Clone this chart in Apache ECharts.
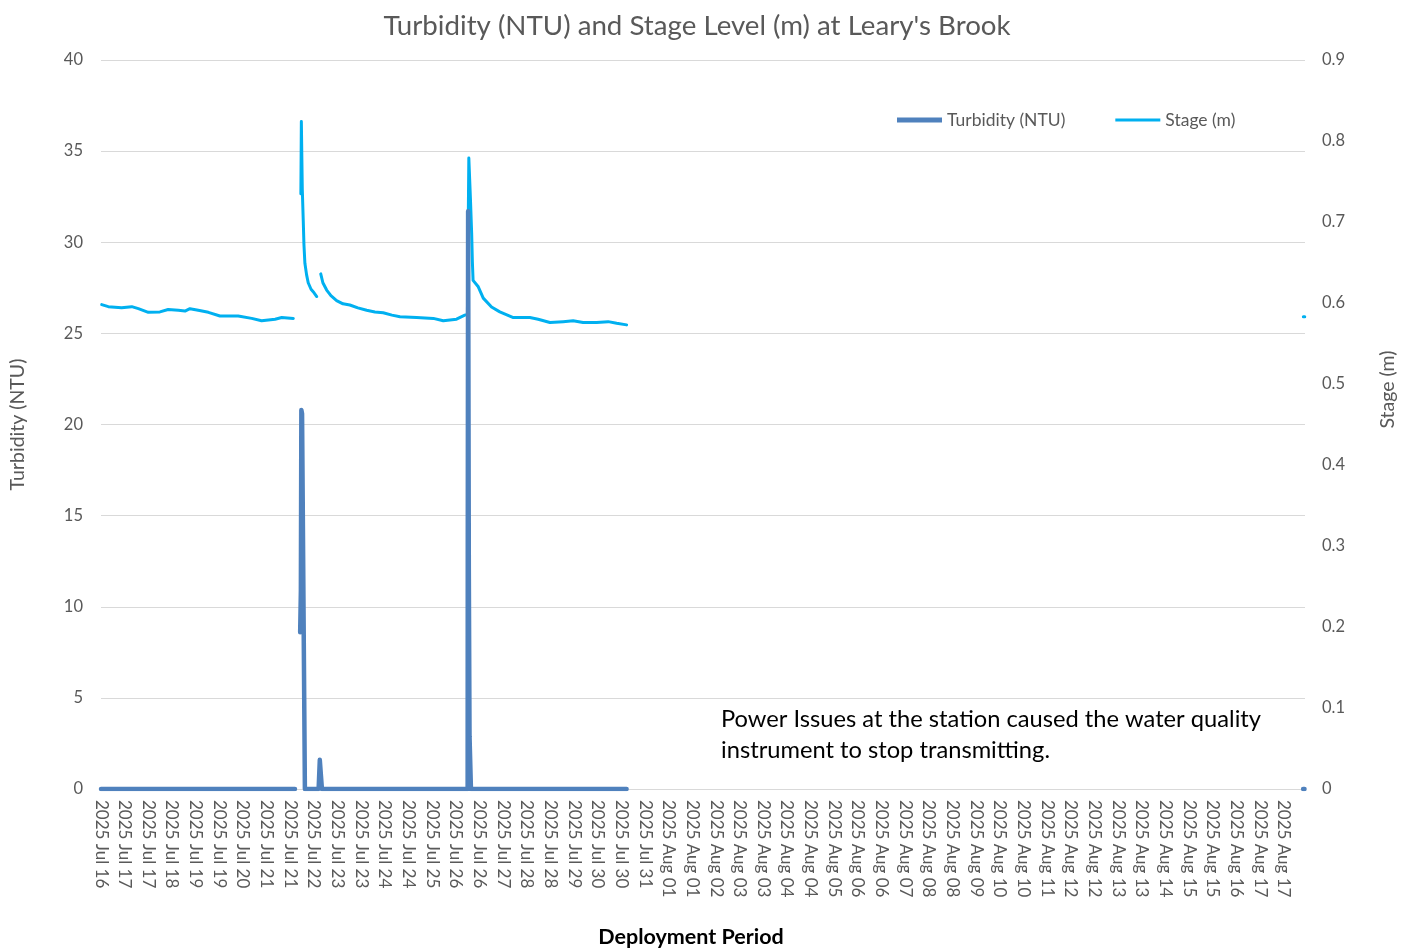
<!DOCTYPE html>
<html>
<head>
<meta charset="utf-8">
<title>Turbidity and Stage at Leary's Brook</title>
<script src="https://cdn.jsdelivr.net/npm/echarts@6/dist/echarts.min.js"></script>
<style>
  html, body { margin: 0; padding: 0; background: #fff; }
  #chart { width: 1416px; height: 951px; }
</style>
</head>
<body>
<div id="chart"></div>
<script>
// tick labels along the deployment axis (one per tick position)
const tickLabels = [
  "2025 Jul 16", "2025 Jul 17", "2025 Jul 17", "2025 Jul 18", "2025 Jul 19", "2025 Jul 19",
  "2025 Jul 20", "2025 Jul 21", "2025 Jul 21", "2025 Jul 22", "2025 Jul 23", "2025 Jul 23",
  "2025 Jul 24", "2025 Jul 24", "2025 Jul 25", "2025 Jul 26", "2025 Jul 26", "2025 Jul 27",
  "2025 Jul 28", "2025 Jul 28", "2025 Jul 29", "2025 Jul 30", "2025 Jul 30", "2025 Jul 31",
  "2025 Aug 01", "2025 Aug 01", "2025 Aug 02", "2025 Aug 03", "2025 Aug 03", "2025 Aug 04",
  "2025 Aug 04", "2025 Aug 05", "2025 Aug 06", "2025 Aug 06", "2025 Aug 07", "2025 Aug 08",
  "2025 Aug 08", "2025 Aug 09", "2025 Aug 10", "2025 Aug 10", "2025 Aug 11", "2025 Aug 12",
  "2025 Aug 12", "2025 Aug 13", "2025 Aug 13", "2025 Aug 14", "2025 Aug 15", "2025 Aug 15",
  "2025 Aug 16", "2025 Aug 17", "2025 Aug 17"
];

// positions are in tick units along the x axis; null value = no data (gap)
const turbidityPos = [0, 8.20, 8.21, 8.42, 8.45, 8.47, 8.50, 8.62, 9.20, 9.25, 9.28, 9.30, 9.34, 15.50,
  15.505, 15.52, 15.55, 15.58, 15.61, 15.64, 22.22, 22.3, 50.82, 50.88];
const turbidityNTU = [0, 0, null, 8.6, 10.9, 20.8, 20.6, 0, 0, 1.6, 1.5, 0.7, 0, 0,
  13.5, 31.7, 12.0, 2.9, 2.8, 0, 0, null, 0, 0];

const stagePos = [0.03, 0.31, 0.87, 1.30, 1.58, 2.00, 2.49, 2.84, 3.27, 3.55, 3.76, 4.11, 4.54, 5.03,
  5.80, 6.37, 6.79, 7.36, 7.64, 8.13, 8.2,
  8.45, 8.47, 8.51, 8.55, 8.58, 8.62, 8.69, 8.76, 8.88, 8.97, 9.12, 9.2,
  9.29, 9.38, 9.54, 9.72, 9.96, 10.23, 10.52, 10.86, 11.23, 11.58, 11.93, 12.30, 12.64, 13.34,
  14.05, 14.47, 15.03, 15.38, 15.49, 15.55, 15.62, 15.67, 15.70, 15.73, 15.95, 16.16, 16.51,
  16.86, 17.43, 18.13, 18.48, 18.98, 19.54, 19.96, 20.38, 20.95, 21.44, 21.80, 22.22, 22.3,
  50.83, 50.89];
const stageM = [0.598, 0.5955, 0.594, 0.5955, 0.593, 0.5885, 0.589, 0.592, 0.591, 0.590, 0.593, 0.591,
  0.5885, 0.584, 0.584, 0.581, 0.578, 0.580, 0.582, 0.581, null,
  0.735, 0.824, 0.740, 0.702, 0.672, 0.649, 0.635, 0.625, 0.617, 0.614, 0.608, null,
  0.636, 0.625, 0.616, 0.609, 0.603, 0.599, 0.5975, 0.594, 0.591, 0.589, 0.588, 0.585, 0.583,
  0.582, 0.581, 0.578, 0.580, 0.585, 0.586, 0.779, 0.727, 0.686, 0.651, 0.628, 0.620, 0.606,
  0.595, 0.589, 0.582, 0.582, 0.580, 0.576, 0.577, 0.578, 0.576, 0.576, 0.577, 0.575, 0.573, null,
  0.583, 0.583];

const turbidityData = turbidityPos.map((p, i) => [p, turbidityNTU[i] == null ? '-' : turbidityNTU[i]]);
const stageData = stagePos.map((p, i) => [p, stageM[i] == null ? '-' : stageM[i]]);

const FONT = "Lato";
const GREY = "#595959";

const chart = echarts.init(document.getElementById("chart"));
chart.setOption({
  animation: false,
  backgroundColor: "#fff",
  textStyle: { fontFamily: FONT },
  title: {
    text: "Turbidity (NTU) and Stage Level (m) at Leary's Brook",
    left: 692,
    top: 7,
    textAlign: "center",
    textStyle: { fontFamily: FONT, fontSize: 27.7, fontWeight: "normal", color: GREY }
  },
  legend: {
    data: [
      { name: "Turbidity (NTU)", icon: "path://M0,0h45v5h-45z" },
      { name: "Stage (m)", icon: "path://M0,0h45v3h-45z" }
    ],
    left: 897,
    top: 111,
    padding: 0,
    itemWidth: 45,
    itemHeight: 14,
    itemGap: 50,
    textStyle: { fontFamily: FONT, fontSize: 17.5, color: GREY }
  },
  grid: { left: 101, right: 111, top: 60, bottom: 162, outerBoundsMode: "none" },
  xAxis: {
    type: "value",
    min: 0,
    max: 50.9,
    interval: 1,
    name: "Deployment Period",
    nameLocation: "middle",
    nameGap: 137,
    nameTextStyle: { fontFamily: FONT, fontSize: 21.5, fontWeight: "bold", color: "#000", padding: [0, 24, 0, 0] },
    axisLine: { show: true, lineStyle: { color: "#d9d9d9", width: 1 } },
    axisTick: { show: false },
    splitLine: { show: false },
    axisLabel: {
      rotate: -90,
      margin: 11,
      fontFamily: FONT,
      fontSize: 17,
      color: GREY,
      showMaxLabel: false,
      formatter: v => (Number.isInteger(v) && tickLabels[v]) ? tickLabels[v] : ""
    }
  },
  yAxis: [
    {
      type: "value",
      min: 0,
      max: 40,
      interval: 5,
      name: "Turbidity (NTU)",
      nameLocation: "middle",
      nameGap: 73,
      nameRotate: 90,
      nameTextStyle: { fontFamily: FONT, fontSize: 19.5, color: GREY },
      axisLine: { show: false },
      axisTick: { show: false },
      splitLine: { lineStyle: { color: "#d9d9d9", width: 1 } },
      axisLabel: { margin: 18, fontFamily: FONT, fontSize: 16.5, color: GREY }
    },
    {
      type: "value",
      min: 0,
      max: 0.9,
      interval: 0.1,
      alignTicks: false,
      name: "Stage (m)",
      nameLocation: "middle",
      nameGap: 73,
      nameRotate: 90,
      nameTextStyle: { fontFamily: FONT, fontSize: 19.5, color: GREY, padding: [0, 0, 0, 70] },
      axisLine: { show: false },
      axisTick: { show: false },
      splitLine: { show: false },
      axisLabel: { margin: 17, fontFamily: FONT, fontSize: 16.5, color: GREY }
    }
  ],
  series: [
    {
      name: "Stage (m)",
      type: "line",
      yAxisIndex: 1,
      data: stageData,
      showSymbol: false,
      symbol: "none",
      connectNulls: false,
      color: "#00b0f0",
      lineStyle: { color: "#00b0f0", width: 3, cap: "round", join: "round" },
      z: 2
    },
    {
      name: "Turbidity (NTU)",
      type: "line",
      yAxisIndex: 0,
      data: turbidityData,
      showSymbol: false,
      symbol: "none",
      connectNulls: false,
      color: "#4f81bd",
      lineStyle: { color: "#4f81bd", width: 4.5, cap: "round", join: "round" },
      z: 3
    }
  ],
  graphic: [
    {
      type: "text",
      left: 721,
      top: 704,
      style: {
        text: "Power Issues at the station caused the water quality\ninstrument to stop transmitting.",
        fontFamily: FONT,
        fontSize: 23.7,
        lineHeight: 31,
        fill: "#000"
      }
    }
  ]
});
</script>
</body>
</html>
